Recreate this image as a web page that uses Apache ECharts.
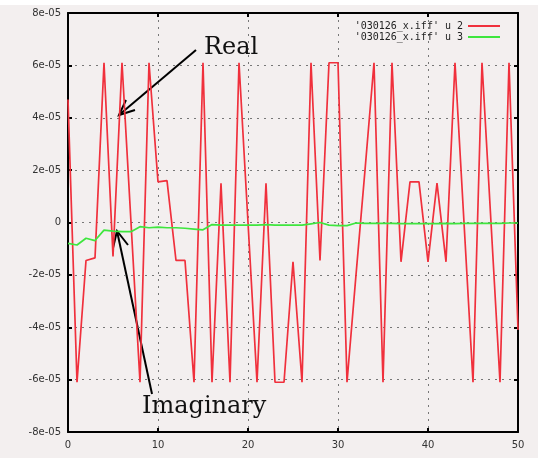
<!DOCTYPE html>
<html>
<head>
<meta charset="utf-8">
<script src="https://cdn.jsdelivr.net/npm/echarts@6/dist/echarts.min.js"></script>
<style>
    html, body { margin: 0; padding: 0; background: #ffffff; }
    #chart { width: 538px; height: 458px; background: #f3efef; }
</style>
</head>
<body>
<div id="chart"></div>
<script>
// sample index 0..50 (x axis)
const sampleCount = 51;
// column 2 of 030126_x.iff (real part), in units of 1e-5
const realPart = [
    4.7, -6.1, -1.45, -1.35, 6.1, -1.3, 6.1, 0, -6.1, 6.1,
    1.55, 1.6, -1.45, -1.45, -6.1, 6.1, -6.1, 1.5, -6.1, 6.1,
    0, -6.1, 1.5, -6.1, -6.1, -1.5, -6.1, 6.1, -1.45, 6.1,
    6.1, -6.1, -2.0, 2.0, 6.1, -6.1, 6.1, -1.5, 1.55, 1.55,
    -1.5, 1.5, -1.5, 6.1, 0, -6.1, 6.1, 0, -6.1, 6.1,
    -4.1
];
// column 3 (imaginary part), in units of 1e-5
const imagPart = [
    -0.8, -0.86, -0.6, -0.69, -0.29, -0.33, -0.35, -0.35, -0.16, -0.2,
    -0.18, -0.2, -0.2, -0.22, -0.25, -0.28, -0.08, -0.1, -0.1, -0.1,
    -0.1, -0.1, -0.08, -0.1, -0.1, -0.1, -0.1, -0.05, 0.0, -0.1,
    -0.12, -0.12, -0.02, -0.03, -0.03, -0.03, -0.03, -0.04, -0.04, -0.04,
    -0.04, -0.04, -0.03, -0.04, -0.03, -0.03, -0.03, -0.03, -0.03, -0.02,
    -0.02
];
const seriesNames = ["'030126_x.iff' u 2", "'030126_x.iff' u 3"];
const yTickLabels = ["-8e-05", "-6e-05", "-4e-05", "-2e-05", "0", "2e-05", "4e-05", "6e-05", "8e-05"];

const toPairs = (arr) => arr.map((v, i) => [i, v * 1e-5]);

const labelFor = (v) => {
    const idx = Math.round((v + 8e-5) / 2e-5);
    return yTickLabels[idx] !== undefined ? yTickLabels[idx] : "";
};

const frameLine = { show: true, onZero: false, lineStyle: { color: "#000", width: 2 } };
const innerTick = { show: true, inside: true, length: 4, lineStyle: { color: "#000", width: 2 } };
const dottedGrid = { show: true, lineStyle: { type: [2, 5], color: "#777", width: 1 } };

const myChart = echarts.init(document.getElementById("chart"));
const option = {
    animation: false,
    backgroundColor: "#f3efef",
    grid: { left: 68, right: 20, top: 13, bottom: 26 },
    legend: {
        data: seriesNames,
        orient: "vertical",
        right: 33,
        top: 16,
        align: "right",
        itemWidth: 32,
        itemHeight: 2,
        itemGap: 1,
        icon: "rect",
        textStyle: { fontFamily: "DejaVu Sans Mono", fontSize: 10, color: "#222" }
    },
    xAxis: [
        {
            type: "value", min: 0, max: sampleCount - 1, interval: 10,
            axisLine: frameLine,
            axisTick: innerTick,
            axisLabel: { fontFamily: "DejaVu Sans", fontSize: 10, color: "#333", margin: 8 },
            splitLine: dottedGrid
        },
        {
            type: "value", position: "top", min: 0, max: sampleCount - 1, interval: 10,
            axisLine: frameLine,
            axisTick: innerTick,
            axisLabel: { show: false },
            splitLine: { show: false }
        }
    ],
    yAxis: [
        {
            type: "value", min: -8e-5, max: 8e-5, interval: 2e-5,
            axisLine: frameLine,
            axisTick: innerTick,
            axisLabel: { fontFamily: "DejaVu Sans", fontSize: 10, color: "#333", margin: 7, formatter: labelFor },
            splitLine: dottedGrid
        },
        {
            type: "value", position: "right", min: -8e-5, max: 8e-5, interval: 2e-5,
            axisLine: frameLine,
            axisTick: innerTick,
            axisLabel: { show: false },
            splitLine: { show: false }
        }
    ],
    series: [
        {
            name: seriesNames[0],
            type: "line",
            data: toPairs(realPart),
            showSymbol: false,
            color: "#f0303c",
            lineStyle: { color: "#f0303c", width: 1.7 }
        },
        {
            name: seriesNames[1],
            type: "line",
            data: toPairs(imagPart),
            showSymbol: false,
            color: "#3ee63e",
            lineStyle: { color: "#3ee63e", width: 1.7 }
        }
    ],
    graphic: [
        { type: "rect", left: 0, top: 0, shape: { width: 538, height: 5 }, style: { fill: "#ffffff" }, silent: true },
        // "Real" annotation
        { type: "text", left: 204, top: 36, style: { text: "Real", font: "24px 'DejaVu Serif'", fill: "#111" } },
        { type: "line", shape: { x1: 196, y1: 50, x2: 119, y2: 115 }, style: { stroke: "#000", lineWidth: 2 } },
        { type: "polyline", shape: { points: [[126, 100], [119, 115], [135, 110]] }, style: { stroke: "#000", lineWidth: 2, fill: null } },
        // "Imaginary" annotation
        { type: "text", left: 142, top: 395, style: { text: "Imaginary", font: "24px 'DejaVu Serif'", fill: "#111" } },
        { type: "line", shape: { x1: 152, y1: 394, x2: 117, y2: 231 }, style: { stroke: "#000", lineWidth: 2 } },
        { type: "polyline", shape: { points: [[113, 248], [117, 231], [128, 245]] }, style: { stroke: "#000", lineWidth: 2, fill: null } }
    ]
};
myChart.setOption(option);
window.addEventListener("resize", () => myChart.resize());
</script>
</body>
</html>
